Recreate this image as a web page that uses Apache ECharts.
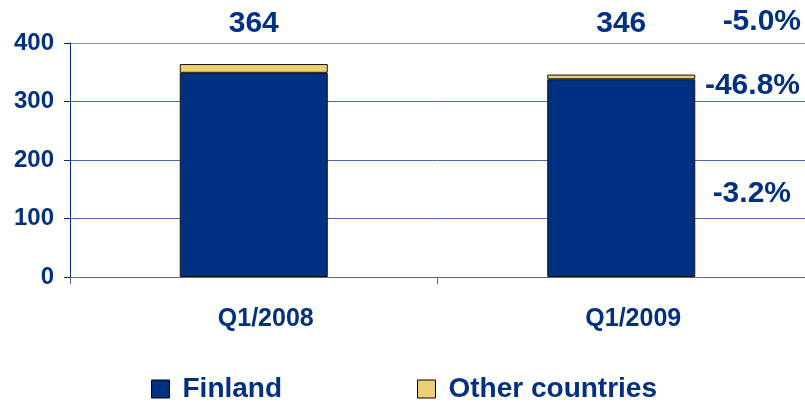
<!DOCTYPE html>
<html>
<head>
<meta charset="utf-8">
<script src="https://cdn.jsdelivr.net/npm/echarts@6/dist/echarts.min.js"></script>
<style>
  html, body { margin: 0; padding: 0; background: #fff; }
  #chart { width: 805px; height: 404px; }
</style>
</head>
<body>
<div id="chart"></div>
<script>
// data
var categories = ['Q1/2008', 'Q1/2009'];
var finland = [349, 338];
var otherCountries = [15, 8];
var totals = [364, 346];
var changeLabels = ['-5.0%', '-46.8%', '-3.2%'];
var yTicks = [0, 100, 200, 300, 400];

var navy = '#003082';
var gold = '#ecd073';
var textFont = 'Liberation Sans, Arial, sans-serif';
var yMax = yTicks[yTicks.length - 1];

var chart = echarts.init(document.getElementById('chart'));

function legendBox(name, left) {
  return {
    left: left,
    top: 375,
    padding: 0,
    itemWidth: 18,
    itemHeight: 18,
    icon: 'rect',
    textStyle: { color: navy, fontSize: 28, fontWeight: 'bold', fontFamily: textFont, padding: [0, 0, 0, 8] },
    data: [{ name: name, itemStyle: { borderColor: '#000', borderWidth: 1 } }]
  };
}

var option = {
  animation: false,
  textStyle: { fontFamily: textFont },
  grid: { left: 70, right: 0, top: 43, bottom: 127 },
  legend: [legendBox('Finland', 151), legendBox('Other countries', 417)],
  xAxis: {
    type: 'category',
    data: categories,
    axisLine: { lineStyle: { color: '#666', width: 1 } },
    axisTick: { show: true, length: 7, lineStyle: { color: '#666' } },
    axisLabel: { color: navy, fontSize: 25, fontWeight: 'bold', margin: 30, padding: [0, 0, 0, 24] }
  },
  yAxis: {
    type: 'value',
    min: yTicks[0],
    max: yMax,
    interval: 100,
    axisLine: { show: true, lineStyle: { color: navy, width: 1 } },
    axisTick: { show: true, length: 6, lineStyle: { color: navy } },
    axisLabel: { color: navy, fontSize: 24, fontWeight: 'bold', margin: 16 },
    splitLine: { lineStyle: { color: ['#888', '#4a6aaa', '#4a6aaa', '#4a6aaa', '#999'], width: 1 } }
  },
  series: [
    {
      name: 'Finland',
      type: 'bar',
      stack: 'total',
      barWidth: 148,
      data: finland,
      itemStyle: { color: navy, borderColor: '#111', borderWidth: 1 }
    },
    {
      name: 'Other countries',
      type: 'bar',
      stack: 'total',
      barWidth: 148,
      data: otherCountries,
      itemStyle: { color: gold, borderColor: '#111', borderWidth: 1 }
    },
    {
      // total labels sit on one line just above the top of the axis
      name: 'totals',
      type: 'scatter',
      symbolSize: 0,
      silent: true,
      itemStyle: { opacity: 1 },
      data: categories.map(function (c) { return [c, yMax]; }),
      label: {
        show: true,
        position: 'top',
        distance: 4,
        color: navy,
        opacity: 1,
        fontSize: 30,
        fontWeight: 'bold',
        formatter: function (p) { return totals[p.dataIndex]; }
      }
    }
  ],
  graphic: [
    { type: 'text', x: 801, y: 22, style: { text: changeLabels[0], fill: navy, font: 'bold 30px ' + textFont, align: 'right', verticalAlign: 'middle' } },
    { type: 'text', x: 800, y: 86, style: { text: changeLabels[1], fill: navy, font: 'bold 30px ' + textFont, align: 'right', verticalAlign: 'middle' } },
    { type: 'text', x: 791, y: 194, style: { text: changeLabels[2], fill: navy, font: 'bold 30px ' + textFont, align: 'right', verticalAlign: 'middle' } }
  ]
};

chart.setOption(option);
</script>
</body>
</html>
